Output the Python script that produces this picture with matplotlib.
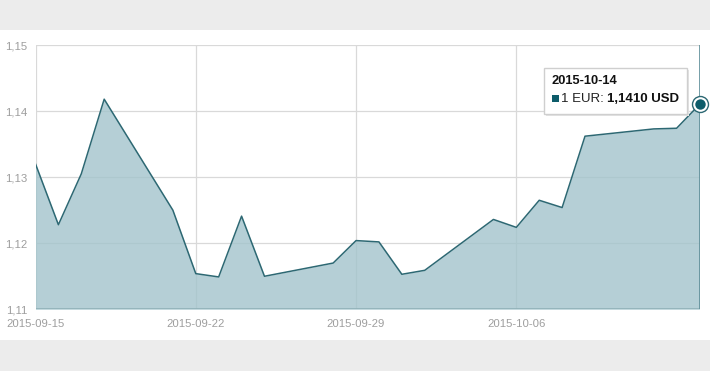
import matplotlib.pyplot as plt
import matplotlib.dates as mdates
from matplotlib.patches import Rectangle
import pandas as pd

dates = ['2015-09-15', '2015-09-16', '2015-09-17', '2015-09-18', '2015-09-21',
         '2015-09-22', '2015-09-23', '2015-09-24', '2015-09-25', '2015-09-28',
         '2015-09-29', '2015-09-30', '2015-10-01', '2015-10-02', '2015-10-05',
         '2015-10-06', '2015-10-07', '2015-10-08', '2015-10-09', '2015-10-12',
         '2015-10-13', '2015-10-14']
rates = [1.1320, 1.1228, 1.1305, 1.1418, 1.1250,
         1.1154, 1.1149, 1.1241, 1.1150, 1.1170,
         1.1204, 1.1202, 1.1153, 1.1159, 1.1236,
         1.1224, 1.1265, 1.1254, 1.1362, 1.1373,
         1.1374, 1.1410]
x_ticks = ['2015-09-15', '2015-09-22', '2015-09-29', '2015-10-06']
y_ticks = [1.11, 1.12, 1.13, 1.14, 1.15]
tip_date = '2015-10-14'
tip_value = '1,1410'

x = pd.to_datetime(dates)
line_col = '#2d6873'
fill_col = '#a3c4cc'

fig = plt.figure(figsize=(7.1, 3.71), dpi=100)
fig.patch.set_facecolor('#ececec')
fig.patches.append(Rectangle((0, 31 / 371), 1, 310 / 371, transform=fig.transFigure,
                             facecolor='white', edgecolor='none', zorder=-1))

ax = fig.add_axes([35.5 / 710, (371 - 309.3) / 371, 664 / 710, 264.3 / 371])
ax.set_facecolor('none')

ax.fill_between(x, rates, 1.11, color=fill_col, alpha=0.8, lw=0, zorder=3)
ax.plot(x, rates, color=line_col, lw=1.1, zorder=4)

ax.set_xlim(x[0], x[-1])
ax.set_ylim(1.11, 1.15)
ax.set_yticks(y_ticks)
ax.set_yticklabels([('%.2f' % v).replace('.', ',') for v in y_ticks])
ax.set_xticks(pd.to_datetime(x_ticks))
ax.xaxis.set_major_formatter(mdates.DateFormatter('%Y-%m-%d'))
ax.grid(True, color='#d9d9d9', lw=0.9, zorder=1)
ax.set_axisbelow(True)
for s in ax.spines.values():
    s.set_visible(False)
ax.axhline(1.11, color='#8fb0b7', lw=1.2, zorder=5)
ax.tick_params(length=0, labelsize=8.2, labelcolor='#9e9e9e', pad=6)
ax.tick_params(axis='x', pad=7)
for lab in ax.get_xticklabels() + ax.get_yticklabels():
    lab.set_family('Liberation Sans')

# hover line and marker on last point
ax.axvline(x[-1], color='#5e8e98', lw=1.2, zorder=5)
ax.plot(x[-1], rates[-1], 'o', ms=11.5, mfc='white', mec=line_col, mew=1.0,
        zorder=6, clip_on=False)
ax.plot(x[-1], rates[-1], 'o', ms=7.5, mfc='#0d5c6a', mec='none',
        zorder=7, clip_on=False)

# tooltip with a faint shadow
fig.patches.append(Rectangle((546 / 710, (371 - 115.5) / 371), 143 / 710, 46 / 371,
                             transform=fig.transFigure, facecolor='#e4e4e4',
                             edgecolor='none', zorder=9))
fig.patches.append(Rectangle((544 / 710, (371 - 113.5) / 371), 143 / 710, 46 / 371,
                             transform=fig.transFigure, facecolor='white',
                             edgecolor='#cfcfcf', lw=1, zorder=10))
fig.text(551.5 / 710, (371 - 81) / 371, tip_date, fontsize=9.3, fontweight='bold',
         family='Liberation Sans', color='#111111', va='center', zorder=11)
fig.patches.append(Rectangle((552 / 710, (371 - 102) / 371), 6.5 / 710, 6.5 / 371,
                             transform=fig.transFigure, facecolor='#0d5c6a',
                             edgecolor='none', zorder=11))
t1 = fig.text(561 / 710, (371 - 98.5) / 371, '1 EUR: ', fontsize=9.5,
              family='Liberation Sans', color='#222222', va='center', zorder=11)
fig.canvas.draw()
bb = t1.get_window_extent()
fig.text(bb.x1 / 710, (371 - 98.5) / 371, tip_value + ' USD', fontsize=9.5,
         fontweight='bold', family='Liberation Sans', color='#111111',
         va='center', zorder=11)

fig.savefig('out.png', dpi=100, facecolor=fig.get_facecolor())
